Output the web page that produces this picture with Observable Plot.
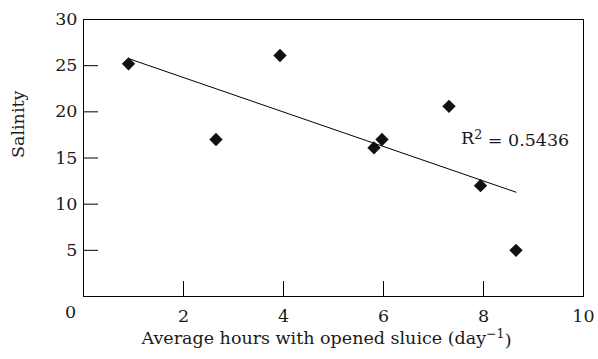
<!DOCTYPE html>
<html>
<head>
<meta charset="utf-8">
<script src="https://cdn.jsdelivr.net/npm/d3@7"></script>
<script src="https://cdn.jsdelivr.net/npm/@observablehq/plot@0.6"></script>
<style>
  html, body { margin: 0; padding: 0; background: #fff; }
</style>
</head>
<body>
<div id="chart"></div>
<script>
// Data
const hours = [0.9, 2.65, 3.93, 5.81, 5.97, 7.31, 7.94, 8.65];
const salinity = [25.2, 17.0, 26.1, 16.1, 17.0, 20.6, 12.0, 5.0];
const xTicks = [0, 2, 4, 6, 8, 10];
const yTicks = [5, 10, 15, 20, 25, 30];
const xTickMarks = [2, 4, 6, 8];
const yTickMarks = [5, 10, 15, 20, 25];
const xTitle = "Average hours with opened sluice (day⁻¹)";
const yTitle = "Salinity";
const r2Label = ["R² = 0.5436"];
const r2Pos = {x: 7.55, y: 17.1};

const data = hours.map((h, i) => ({hours: h, salinity: salinity[i]}));

const W = 598, H = 359;
const mL = 83, mR = 15, mT = 19, mB = 63;
const innerW = W - mL - mR, innerH = H - mT - mB;
const font = "DejaVu Serif";
const ink = "#1a1a1a";
const fs = 17.5;

const chart = Plot.plot({
  width: W,
  height: H,
  marginLeft: mL,
  marginRight: mR,
  marginTop: mT,
  marginBottom: mB,
  style: {fontFamily: font, fontSize: fs + "px", color: ink, background: "#fff"},
  x: {domain: [0, 10]},
  y: {domain: [0, 30]},
  marks: [
    Plot.frame({stroke: "#000", strokeWidth: 1}),
    Plot.tickY(yTickMarks, {y: d => d, insetRight: innerW - 15, stroke: "#000"}),
    Plot.tickX(xTickMarks, {x: d => d, insetTop: innerH - 15, stroke: "#000"}),
    Plot.axisY(yTicks, {tickSize: 0, tickPadding: 6, label: null, fontSize: fs, fill: ink}),
    Plot.axisX(xTicks.filter(d => d !== 0), {tickSize: 0, tickPadding: 13, label: null, fontSize: fs, fill: ink}),
    Plot.text(xTicks.filter(d => d === 0), {x: d => d, frameAnchor: "bottom", dy: 21, dx: -13, text: d => String(d), fontSize: fs, fill: ink}),
    Plot.text([yTitle], {frameAnchor: "left", dx: -65, rotate: -90, text: d => d, fontSize: fs, fill: ink}),
    Plot.text([xTitle], {frameAnchor: "bottom", dy: 47, dx: -7, text: d => d, fontSize: fs, fill: ink}),
    Plot.text(r2Label, {x: () => r2Pos.x, y: () => r2Pos.y, text: d => d, textAnchor: "start", fontSize: fs, fill: ink}),
    Plot.linearRegressionY(data, {x: "hours", y: "salinity", ci: 0, stroke: "#000", strokeWidth: 1}),
    Plot.dot(data, {x: "hours", y: "salinity", symbol: "diamond2", r: 6, fill: "#111", stroke: "none"})
  ]
});

// Render superscript characters as raised tspans (text stays real text)
const supMap = {"⁻": "−", "¹": "1", "²": "2"};
d3.select(chart).selectAll("text").each(function() {
  const t = this.textContent;
  const m = t.match(/[⁻¹²]+/);
  if (!m || this.children.length) return;
  const before = t.slice(0, m.index);
  const sup = Array.from(m[0]).map(c => supMap[c]).join("");
  const after = t.slice(m.index + m[0].length);
  const sel = d3.select(this);
  sel.text(null);
  sel.append("tspan").text(before);
  sel.append("tspan").attr("dy", "-0.45em").attr("font-size", "0.72em").text(sup);
  sel.append("tspan").attr("dy", "0.45em").text(after);
});

document.getElementById("chart").appendChild(chart);
</script>
</body>
</html>
